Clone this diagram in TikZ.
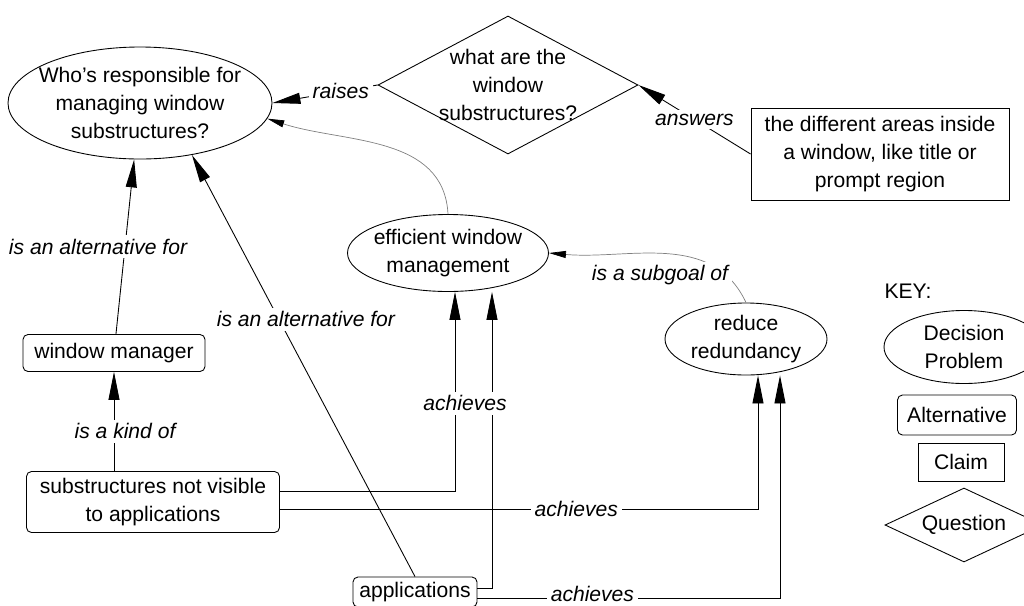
\documentclass[tikz,border=0pt]{standalone}
\usepackage{fontspec}
\setmainfont{Liberation Sans}
\usetikzlibrary{arrows.meta,shapes.geometric,positioning}

\newcommand\mapfont{\fontsize{12}{15.9}\selectfont}

\begin{document}
\begin{tikzpicture}[>={Triangle[length=5.6mm,width=2.2mm]}, x=0.2mm, y=0.2mm, line width=0.5pt,
    every node/.style={font=\mapfont},
    prob/.style={ellipse, draw, align=center, inner xsep=-2mm, inner ysep=0pt},
    alt/.style={draw, rounded corners=1mm, align=center, inner sep=0pt},
    claim/.style={draw, align=center, inner sep=0pt},
    quest/.style={diamond, draw, align=center, inner sep=-1.5mm, shape aspect=1.86},
    lbl/.style={fill=white, text=black, font=\mapfont\itshape, inner sep=0.8mm},
    link/.style={->},
    soft/.style={-{Triangle[length=3.4mm,width=1.4mm,color=black]}, gray, line width=0.4pt}]
  \useasboundingbox (0,0) rectangle (1024,-605);

  \node[prob, minimum width=52.8mm, minimum height=22.4mm] (who) at (140,-103) {Who's responsible for\\managing window\\substructures?};
  \node[quest, minimum width=52mm, minimum height=27.6mm] (what) at (508,-85) {what are the\\window\\substructures?};
  \node[claim, minimum width=51.6mm, minimum height=18.4mm] (areas) at (880,-154) {the different areas inside\\a window, like title or\\prompt region};
  \node[prob, minimum width=40.2mm, minimum height=15.4mm] (eff) at (448,-253) {efficient window\\management};
  \node[prob, minimum width=32.4mm, minimum height=14.4mm] (redund) at (746,-339) {reduce\\redundancy};
  \node[alt, minimum width=36.4mm, minimum height=7.4mm] (wm) at (114,-353) {window manager};
  \node[alt, minimum width=50.6mm, minimum height=12.2mm] (notvis) at (153,-502) {substructures not visible\\to applications};
  \node[alt, minimum width=24.8mm, minimum height=6mm] (apps) at (415,-592) {applications};

  \node (key) at (908,-291) {KEY:};
  \node[prob, minimum width=32mm, minimum height=14.6mm] (kprob) at (964,-347) {Decision\\Problem};
  \node[alt, minimum width=23.8mm, minimum height=8mm] (kalt) at (957,-415) {Alternative};
  \node[claim, minimum width=17.2mm, minimum height=7.6mm] (kclaim) at (961,-462) {Claim};
  \node[quest, inner sep=0pt, shape aspect=2.13, minimum width=31.6mm, minimum height=14.8mm] (kquest) at (964,-525) {Question};

  \draw[link] (what.west) -- node[lbl, pos=0.35] {raises} (who.east);
  \draw[link] (areas.west) -- node[lbl] {answers} (what.east);
  \draw[link] (wm) -- node[lbl, xshift=-5.4mm] {is an alternative for} (who);
  \draw[link] (apps.north) -- node[lbl, pos=0.61, xshift=5.4mm] {is an alternative for} (who.-45);
  \draw[link] (notvis.north -| wm) -- node[lbl, pos=0.4, xshift=2.2mm] {is a kind of} (wm);
  \draw[link] ([yshift=-1.2mm]apps.east) -| node[lbl, pos=0.19, yshift=0.8mm] {achieves} ([xshift=6.8mm]redund.south);
  \draw[link] ([yshift=-1.4mm]notvis.east) -| node[lbl, pos=0.31] {achieves} ([xshift=2.4mm]redund.south);
  \draw[link] ([yshift=0.8mm]apps.east) -| ([xshift=8.8mm]eff.south);
  \draw[link] ([yshift=2.2mm]notvis.east) -| node[lbl, pos=0.72, xshift=2mm] {achieves} ([xshift=1.4mm]eff.south);
  \draw[soft] (eff.north) to[out=93, in=-18] (who.-7);
  \draw[soft] (redund.north) to[out=115, in=-5] node[lbl, pos=0.42, xshift=-4.2mm, yshift=-4mm] {is a subgoal of} (eff.east);
\end{tikzpicture}
\end{document}
